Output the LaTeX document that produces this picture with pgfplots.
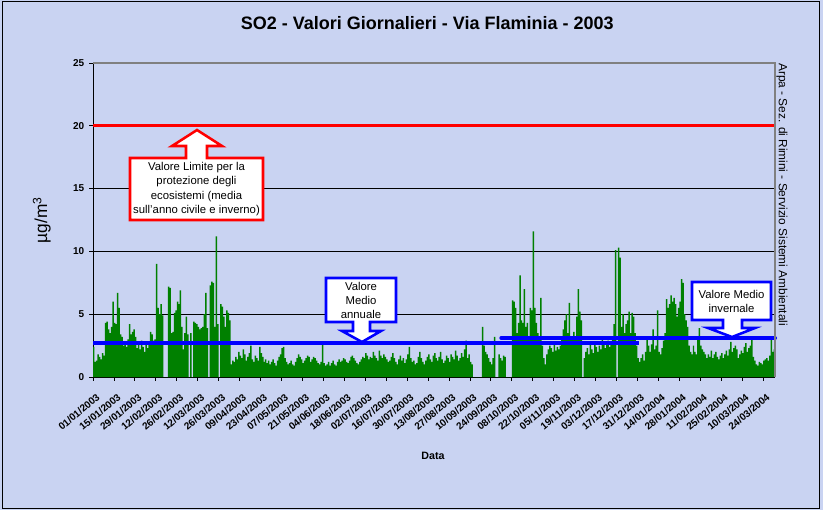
\documentclass[border=0pt]{standalone}
\usepackage{fontspec}
\setmainfont{Liberation Sans}
\usepackage{pgfplots}
\usepackage{pgfplotstable}
\pgfplotsset{compat=1.18}
\definecolor{bgblue}{HTML}{C9D3F2}
\definecolor{bargreen}{RGB}{0,128,0}

% daily SO2 values, 01/01/2003 -> 31/03/2004 (one per day)
\pgfplotstableread[row sep=\\]{
v\\
2.4\\ 1.2\\ 1.3\\ 1.8\\ 1.6\\ 1.4\\ 1.9\\ 1.7\\ 4.3\\ 4.4\\
3.8\\ 3.5\\ 4.0\\ 6.0\\ 4.3\\ 4.2\\ 6.7\\ 5.5\\ 3.4\\ 3.2\\
2.5\\ 2.8\\ 2.4\\ 3.0\\ 4.2\\ 3.4\\ 3.6\\ 3.8\\ 3.2\\ 2.3\\
2.6\\ 2.2\\ 2.9\\ 2.4\\ 2.0\\ 2.6\\ 2.3\\ 2.8\\ 3.6\\ 3.4\\
2.9\\ 3.0\\ 9.0\\ 5.5\\ 5.0\\ 5.8\\ 4.9\\ 0\\ 0\\ 0\\
7.2\\ 7.1\\ 3.5\\ 3.6\\ 5.1\\ 5.3\\ 6.0\\ 5.8\\ 6.9\\ 4.0\\
2.2\\ 3.5\\ 4.8\\ 3.4\\ 0\\ 3.5\\ 0\\ 4.4\\ 4.3\\ 4.2\\
4.0\\ 3.8\\ 3.9\\ 4.0\\ 5.0\\ 6.7\\ 3.9\\ 0\\ 7.3\\ 7.6\\
7.5\\ 4.0\\ 11.2\\ 4.2\\ 0\\ 5.8\\ 5.6\\ 4.8\\ 4.0\\ 5.3\\
5.1\\ 4.5\\ 1.0\\ 1.3\\ 1.2\\ 1.6\\ 1.4\\ 2.0\\ 1.7\\ 1.5\\
2.2\\ 1.8\\ 1.3\\ 1.6\\ 1.9\\ 2.5\\ 1.4\\ 1.2\\ 1.7\\ 1.5\\
1.3\\ 2.4\\ 1.9\\ 1.6\\ 1.2\\ 1.4\\ 1.1\\ 1.3\\ 1.0\\ 1.2\\
1.4\\ 1.1\\ 0.9\\ 1.3\\ 1.6\\ 1.8\\ 2.3\\ 2.4\\ 1.5\\ 1.2\\
1.0\\ 1.1\\ 1.3\\ 1.0\\ 0.9\\ 1.2\\ 1.5\\ 1.8\\ 1.6\\ 1.4\\
1.1\\ 1.3\\ 1.5\\ 1.7\\ 1.6\\ 1.2\\ 1.4\\ 1.6\\ 1.5\\ 1.3\\
1.1\\ 1.0\\ 1.2\\ 2.6\\ 1.1\\ 0.9\\ 1.0\\ 1.2\\ 0.9\\ 1.1\\
1.3\\ 1.0\\ 0.9\\ 1.2\\ 1.4\\ 1.2\\ 1.3\\ 1.5\\ 1.4\\ 1.2\\
1.1\\ 1.3\\ 1.6\\ 1.7\\ 1.5\\ 1.3\\ 1.1\\ 1.0\\ 1.2\\ 1.4\\
1.6\\ 1.5\\ 1.9\\ 1.7\\ 1.4\\ 1.6\\ 1.5\\ 2.0\\ 1.7\\ 1.5\\
1.3\\ 2.1\\ 1.7\\ 1.5\\ 1.8\\ 1.6\\ 1.4\\ 1.2\\ 1.3\\ 1.6\\
1.9\\ 1.5\\ 1.2\\ 1.0\\ 1.4\\ 1.7\\ 1.3\\ 1.5\\ 1.1\\ 1.4\\
1.8\\ 2.4\\ 1.5\\ 1.2\\ 1.3\\ 1.0\\ 1.1\\ 1.6\\ 2.0\\ 1.5\\
1.2\\ 1.0\\ 1.3\\ 1.6\\ 1.8\\ 1.4\\ 1.2\\ 1.7\\ 1.9\\ 1.5\\
1.3\\ 1.6\\ 2.0\\ 1.4\\ 1.1\\ 1.3\\ 1.7\\ 1.5\\ 1.2\\ 1.8\\
1.6\\ 1.4\\ 2.1\\ 1.7\\ 1.3\\ 1.5\\ 1.9\\ 1.6\\ 2.2\\ 2.9\\
1.5\\ 1.8\\ 1.2\\ 1.0\\ 0\\ 0\\ 0\\ 0\\ 0\\ 0\\
4.0\\ 2.5\\ 2.0\\ 1.8\\ 1.5\\ 1.2\\ 1.0\\ 1.5\\ 3.2\\ 0\\
0\\ 1.8\\ 1.5\\ 1.3\\ 1.7\\ 1.6\\ 0\\ 0\\ 0\\ 0\\
6.1\\ 6.0\\ 5.5\\ 3.5\\ 4.3\\ 8.1\\ 4.5\\ 4.3\\ 7.0\\ 4.0\\
4.3\\ 3.2\\ 5.5\\ 5.3\\ 11.6\\ 5.5\\ 4.3\\ 3.5\\ 3.0\\ 6.3\\
2.5\\ 1.5\\ 1.0\\ 1.8\\ 2.2\\ 2.5\\ 2.3\\ 2.0\\ 2.6\\ 2.1\\
2.4\\ 2.2\\ 2.5\\ 3.0\\ 3.8\\ 4.5\\ 5.0\\ 3.5\\ 5.9\\ 3.0\\
3.2\\ 3.6\\ 3.1\\ 4.8\\ 7.0\\ 5.2\\ 4.5\\ 0\\ 1.5\\ 2.0\\
2.3\\ 1.8\\ 2.6\\ 2.2\\ 1.9\\ 2.8\\ 2.4\\ 2.0\\ 2.5\\ 2.2\\
3.0\\ 2.6\\ 2.3\\ 2.7\\ 2.9\\ 2.4\\ 2.6\\ 3.0\\ 4.2\\ 10.1\\
0\\ 10.3\\ 9.5\\ 4.0\\ 5.0\\ 3.5\\ 4.2\\ 4.5\\ 5.2\\ 3.5\\
5.1\\ 4.8\\ 3.5\\ 2.5\\ 1.5\\ 1.2\\ 1.5\\ 1.8\\ 1.3\\ 2.0\\
3.0\\ 2.5\\ 2.0\\ 2.6\\ 3.8\\ 2.2\\ 2.5\\ 5.3\\ 2.0\\ 1.8\\
2.3\\ 2.9\\ 3.5\\ 6.2\\ 5.5\\ 5.8\\ 6.5\\ 6.0\\ 6.3\\ 5.8\\
4.8\\ 5.5\\ 6.0\\ 7.8\\ 7.5\\ 5.0\\ 4.5\\ 4.0\\ 2.5\\ 2.0\\
1.8\\ 2.5\\ 2.0\\ 1.8\\ 3.2\\ 3.9\\ 2.5\\ 2.2\\ 2.0\\ 1.8\\
1.5\\ 1.8\\ 1.6\\ 2.1\\ 1.5\\ 1.8\\ 2.0\\ 1.6\\ 1.4\\ 1.7\\
1.9\\ 1.5\\ 1.8\\ 2.1\\ 1.7\\ 2.2\\ 2.8\\ 2.0\\ 2.3\\ 2.5\\
2.2\\ 1.5\\ 1.8\\ 2.1\\ 1.9\\ 2.4\\ 2.7\\ 2.0\\ 2.3\\ 2.5\\
3.0\\ 1.6\\ 1.3\\ 1.0\\ 0.9\\ 1.2\\ 1.1\\ 1.0\\ 1.3\\ 1.4\\
1.5\\ 1.3\\ 1.7\\ 3.0\\ 2.0\\ 2.2\\
}\so

\begin{document}
\begin{tikzpicture}
  % page = 823 x 510 px, 1px = 0.75pt
  \fill[bgblue] (0,0) rectangle (617.25pt,382.5pt);
  \useasboundingbox (0,0) rectangle (617.25pt,382.5pt);
  \draw[black, line width=0.8pt] (2pt,1.2pt) rectangle (614.5pt,381.3pt);

  \begin{axis}[
      at={(69.75pt,99.75pt)}, anchor=south west,
      width=511.5pt, height=235.5pt, scale only axis,
      xmin=0, xmax=456, ymin=0, ymax=25,
      clip=false,
      axis x line*=bottom, axis y line*=left,
      axis line style={black, line width=0.6pt},
      ytick={0,5,10,15,20,25},
      ymajorgrids, grid style={black, line width=0.6pt},
      xtick={0,14,...,448},
      xticklabels={01/01/2003,15/01/2003,29/01/2003,12/02/2003,26/02/2003,
        12/03/2003,26/03/2003,09/04/2003,23/04/2003,07/05/2003,21/05/2003,
        04/06/2003,18/06/2003,02/07/2003,16/07/2003,30/07/2003,13/08/2003,
        27/08/2003,10/09/2003,24/09/2003,08/10/2003,22/10/2003,05/11/2003,
        19/11/2003,03/12/2003,17/12/2003,31/12/2003,14/01/2004,28/01/2004,
        11/02/2004,25/02/2004,10/03/2004,24/03/2004},
      tick align=outside, major tick length=3pt,
      tick style={black, line width=0.6pt},
      /pgf/number format/assume math mode=true,
      xticklabel style={rotate=40, anchor=north east, inner sep=0pt,
        yshift=-8pt, xshift=-4pt,
        font=\fontsize{7.5}{8}\selectfont\bfseries},
      yticklabel style={font=\fontsize{7.5}{8}\selectfont\bfseries},
      title={SO2 - Valori Giornalieri - Via Flaminia - 2003},
      title style={font=\fontsize{13.5}{15}\selectfont\bfseries,
        at={(axis description cs:0.49,1.102)}, anchor=center},
      xlabel={Data},
      xlabel style={font=\fontsize{8}{9}\selectfont\bfseries,
        at={(axis description cs:0.4985,-0.2516)}, anchor=center},
      ylabel={µg/m\textsuperscript{3}},
      ylabel style={font=\fontsize{13}{15}\selectfont,
        at={(axis description cs:-0.075,0.5)}, anchor=center},
    ]
    \addplot[ybar, bar width=1, fill=bargreen, draw=none]
      table[x expr=\coordindex+0.5, y=v] {\so};
    % annual mean and winter mean
    \addplot[blue, line width=3pt] coordinates {(0,2.7) (365,2.7)};
    \addplot[blue, line width=3pt, line cap=round] coordinates {(273,3.1) (456,3.1)};
    % limit value
    \addplot[red, line width=2.5pt] coordinates {(0,20) (456,20)};
    \draw[gray, line width=2pt] (rel axis cs:0,1) -- (rel axis cs:1,1) -- (rel axis cs:1,0);
  \end{axis}

  % callouts, in pixel coordinates of the reference
  \begin{scope}[x=0.75pt, y=-0.75pt, yshift=382.5pt]
    \draw[red, line width=1.9pt, fill=white, line join=miter]
      (130,158) -- (186,158) -- (186,146) -- (172,146) -- (197,130)
      -- (222,146) -- (207,146) -- (207,158) -- (263,158) -- (263,220)
      -- (130,220) -- cycle;
    \node[align=center, font=\fontsize{8.5}{10.8}\selectfont] at (196.5,189)
      {Valore Limite per la\\protezione degli\\ecosistemi (media\\sull'anno civile e inverno)};

    \draw[blue, line width=1.9pt, fill=white, line join=miter]
      (326,278) -- (396,278) -- (396,322) -- (370,322) -- (370,331)
      -- (381,331) -- (362,342) -- (342,331) -- (353,331) -- (353,322)
      -- (326,322) -- cycle;
    \node[align=center, font=\fontsize{8.5}{10.5}\selectfont] at (361,300)
      {Valore\\Medio\\annuale};

    \draw[blue, line width=1.9pt, fill=white, line join=miter]
      (692,282) -- (771,282) -- (771,320) -- (742,320) -- (742,328)
      -- (755,328) -- (732,337) -- (708,328) -- (723,328) -- (723,320)
      -- (692,320) -- cycle;
    \node[align=center, font=\fontsize{8.5}{10.5}\selectfont] at (731.5,301)
      {Valore Medio\\invernale};

    \node[rotate=-90, anchor=west, inner sep=0pt, font=\fontsize{8.9}{10}\selectfont]
      at (782,63) {Arpa - Sez. di Rimini - Servizio Sistemi Ambientali};
  \end{scope}
\end{tikzpicture}
\end{document}
